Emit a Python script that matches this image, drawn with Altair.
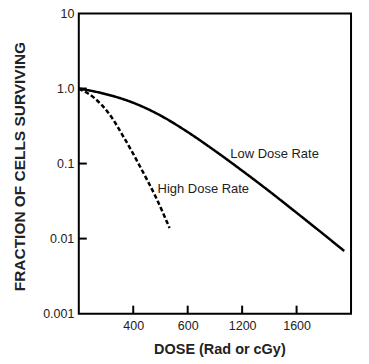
import altair as alt
import pandas as pd

# Survival curves
low_dose = [0, 200, 400, 600, 800, 1000, 1200, 1400, 1600, 1800, 1950]
low_frac = [1.0, 0.841, 0.646, 0.437, 0.263, 0.148, 0.0804, 0.0427, 0.0221, 0.01135, 0.00684]
high_dose = [0, 117, 215, 337, 459, 569, 667]
high_frac = [1.0, 0.74, 0.48, 0.214, 0.085, 0.0347, 0.0138]

series_names = ["Low Dose Rate", "High Dose Rate"]

x_tick_values = [400, 800, 1200, 1600]
x_tick_labels = ["400", "600", "1200", "1600"]
y_tick_values = [0.001, 0.01, 0.1, 1, 10]
y_tick_labels = ["0.001", "0.01", "0.1", "1.0", "10"]
y_inner_ticks = [0.01, 0.1, 1]

label_text = ["Low Dose Rate", "High Dose Rate"]
label_dose = [1113, 579]
label_frac = [0.133, 0.0457]

W, H = 273, 301
FONT = "Liberation Sans"

curves = pd.DataFrame(
    {"dose": low_dose + high_dose,
     "frac": low_frac + high_frac,
     "series": [series_names[0]] * len(low_dose) + [series_names[1]] * len(high_dose)}
)
labels = pd.DataFrame({"text": label_text, "dose": label_dose, "frac": label_frac})
xt = pd.DataFrame({"dose": x_tick_values})
yt = pd.DataFrame({"frac": y_inner_ticks})

x_label_expr = "[" + ",".join(f"'{l}'" for l in x_tick_labels) + "][indexof([" + ",".join(str(v) for v in x_tick_values) + "], datum.value)]"
y_label_expr = "[" + ",".join(f"'{l}'" for l in y_tick_labels) + "][indexof([" + ",".join(str(v) for v in y_tick_values) + "], datum.value)]"

xscale = alt.Scale(domain=[0, 2000], nice=False, zero=False)
yscale = alt.Scale(type="log", domain=[0.001, 10], nice=False)

xaxis = alt.Axis(values=x_tick_values, labelExpr=x_label_expr, ticks=False, tickSize=0,
                 domain=False, grid=False, labelFontSize=12.5, labelFont=FONT,
                 labelColor="#222", labelPadding=6, title="DOSE (Rad or cGy)",
                 titleFont=FONT, titleFontSize=14.5, titleFontWeight="bold",
                 titleColor="#222", titleX=141, titleY=29, titleBaseline="top")
yaxis = alt.Axis(values=y_tick_values, labelExpr=y_label_expr, ticks=False, tickSize=0,
                 domain=False, grid=False, labelFontSize=12.5, labelFont=FONT,
                 labelColor="#222", labelPadding=5, title="FRACTION OF CELLS SURVIVING",
                 titleFont=FONT, titleFontSize=15.5, titleFontWeight="bold",
                 titleColor="#222", titleX=-51, titleY=153)

lines = alt.Chart(curves).mark_line(color="black", strokeWidth=2.5, interpolate="monotone").encode(
    x=alt.X("dose:Q", scale=xscale, axis=xaxis),
    y=alt.Y("frac:Q", scale=yscale, axis=yaxis),
    strokeDash=alt.StrokeDash("series:N", scale=alt.Scale(domain=series_names, range=[[1, 0], [4.5, 2.5]]), legend=None),
    detail="series:N",
)

text = alt.Chart(labels).mark_text(align="left", baseline="middle", font=FONT, fontSize=13, color="#222").encode(
    x=alt.X("dose:Q", scale=xscale),
    y=alt.Y("frac:Q", scale=yscale),
    text="text:N",
)

xticks = alt.Chart(xt).mark_rule(color="black", strokeWidth=2).encode(
    x=alt.X("dose:Q", scale=xscale),
    y=alt.value(H),
    y2=alt.value(H - 8),
)
yticks = alt.Chart(yt).mark_rule(color="black", strokeWidth=2).encode(
    y=alt.Y("frac:Q", scale=yscale),
    x=alt.value(0),
    x2=alt.value(8),
)

chart = alt.layer(lines, text, xticks, yticks).properties(
    width=W, height=H,
    padding={"left": 71, "top": 5, "right": 10, "bottom": 50},
    autosize=alt.AutoSizeParams(type="none"),
).configure_view(stroke="black", strokeWidth=2)

chart.save("out.html", embed_options={"renderer": "svg", "actions": False})
